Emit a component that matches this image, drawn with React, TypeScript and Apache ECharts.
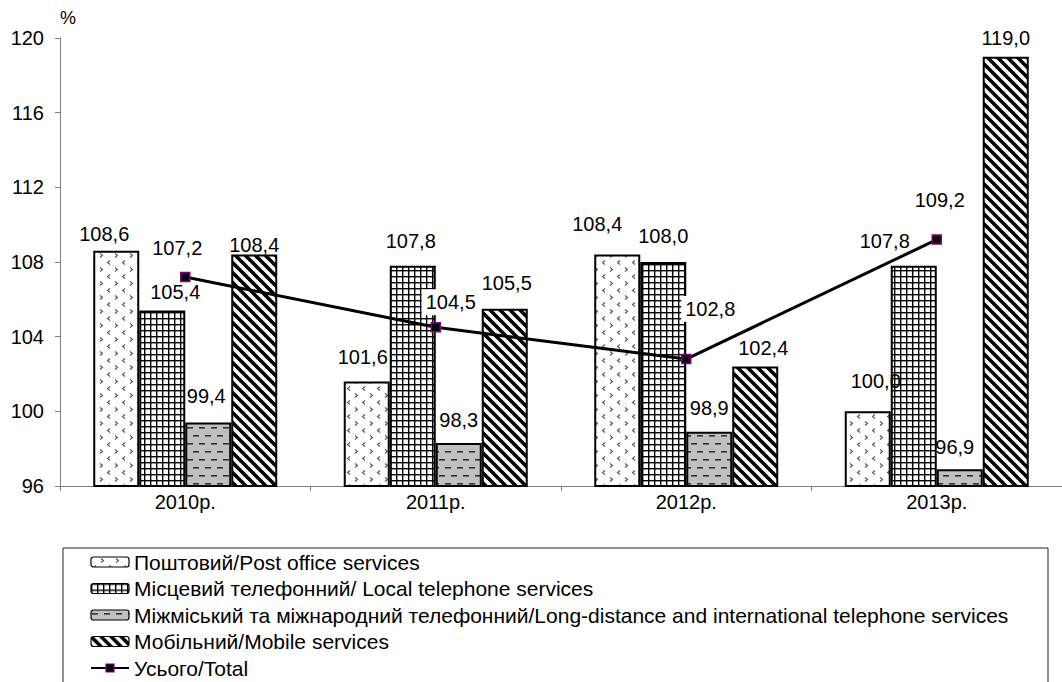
import React, { useEffect, useRef } from 'react';
import * as echarts from 'echarts';

const categories = ['2010р.', '2011р.', '2012р.', '2013р.'];
const seriesNames = [
  'Поштовий/Post office services',
  'Місцевий телефонний/ Local telephone services',
  'Міжміський та міжнародний телефонний/Long-distance and international telephone services',
  'Мобільний/Mobile services',
  'Усього/Total',
];
const postal = [108.6, 101.6, 108.4, 100.0];
const localPhone = [105.4, 107.8, 108.0, 107.8];
const longDistance = [99.4, 98.3, 98.9, 96.9];
const mobile = [108.4, 105.5, 102.4, 119.0];
const total = [107.2, 104.5, 102.8, 109.2];

const yMin = 96;
const yMax = 120;
const yStep = 4;

// label offsets (layout only)
const postalOffsets = [[-12, 2], [-4, -5], [-20, -12], [8, -11]];
const localOffsets = [[13, 0], [-2, -6], [0, -7], [-29, -6]];
const longOffsets = [[-2, -8], [0, -4], [0, -5], [-5, -3]];
const mobileOffsets = [[0, 9], [2, -7], [8, 0], [0, 0]];
const totalOffsets = [[-8, -29], [15, -25], [24, -50], [3, -40]];

const FONT = '"Liberation Sans", Arial, sans-serif';
const FS = 20;

function makeCanvas(w: number, h: number, draw: (c: CanvasRenderingContext2D) => void) {
  const cv = document.createElement('canvas');
  cv.width = w;
  cv.height = h;
  const ctx = cv.getContext('2d')!;
  draw(ctx);
  return cv;
}

const fmt = (v: number) => v.toFixed(1).replace('.', ',');

export default function App() {
  const ref = useRef<HTMLDivElement>(null);
  useEffect(() => {
    document.body.style.margin = '0';
    if (!ref.current) return;
    const chart = echarts.init(ref.current, undefined, { renderer: 'svg' });

    const postPattern = makeCanvas(15, 14, (c) => {
      c.fillStyle = '#fff';
      c.fillRect(0, 0, 15, 14);
      c.strokeStyle = '#555';
      c.lineWidth = 1.1;
      c.beginPath();
      c.moveTo(10, 1.5); c.lineTo(12.5, 3.5); c.lineTo(10, 5.5);
      c.moveTo(5, 8.5); c.lineTo(2.5, 10.5); c.lineTo(5, 12.5);
      c.stroke();
    });
    const gridPattern = makeCanvas(6, 6, (c) => {
      c.fillStyle = '#fff';
      c.fillRect(0, 0, 6, 6);
      c.fillStyle = '#000';
      c.fillRect(0, 0, 6, 1.4);
      c.fillRect(0, 0, 1.4, 6);
    });
    const dashPattern = makeCanvas(12, 16, (c) => {
      c.fillStyle = '#c0c0c0';
      c.fillRect(0, 0, 12, 16);
      c.fillStyle = '#333';
      c.fillRect(1, 3, 6, 1.6);
      c.fillRect(7, 11, 5, 1.6);
      c.fillRect(0, 11, 1, 1.6);
    });
    const stripePattern = makeCanvas(10, 10, (c) => {
      c.fillStyle = '#fff';
      c.fillRect(0, 0, 10, 10);
      c.strokeStyle = '#000';
      c.lineWidth = 3.6;
      c.beginPath();
      for (let k = -1; k <= 1; k++) {
        c.moveTo(k * 10 - 1, -1);
        c.lineTo(k * 10 + 11, 11);
      }
      c.stroke();
    });

    const barSeries = (name: string, data: number[], pattern: HTMLCanvasElement, offsets: number[][]) => ({
      type: 'bar',
      name,
      barWidth: 46,
      barGap: '0%',
      itemStyle: {
        color: { image: pattern, repeat: 'repeat' },
        borderColor: '#000',
        borderWidth: 2,
      },
      label: {
        show: true,
        position: 'top',
        distance: 9,
        color: '#000',
        fontSize: FS,
        fontFamily: FONT,
        formatter: (p: any) => fmt(p.value),
      },
      data: data.map((v, i) => ({ value: v, label: { offset: offsets[i] } })),
    });

    chart.setOption({
      animation: false,
      backgroundColor: '#fff',
      grid: { left: 60, top: 38, bottom: 196, right: -10 },
      xAxis: {
        type: 'category',
        data: categories,
        axisLine: { lineStyle: { color: '#808080', width: 1 } },
        axisTick: { show: true, length: 5, lineStyle: { color: '#808080' } },
        axisLabel: { color: '#000', fontSize: FS, fontFamily: FONT, margin: 6 },
      },
      yAxis: {
        type: 'value',
        min: yMin,
        max: yMax,
        interval: yStep,
        splitLine: { show: false },
        axisLine: { show: true, lineStyle: { color: '#808080', width: 1 } },
        axisTick: { show: true, length: 5, lineStyle: { color: '#808080' } },
        axisLabel: { color: '#000', fontSize: FS, fontFamily: FONT, margin: 16 },
      },
      legend: {
        orient: 'vertical',
        left: 90,
        top: 551,
        padding: 0,
        itemGap: 4.5,
        itemWidth: 38,
        itemHeight: 10,
        itemStyle: { borderWidth: 1.2 },
        textStyle: { color: '#000', fontSize: 21, fontFamily: FONT, lineHeight: 22 },
        data: seriesNames,
      },
      graphic: [
        {
          type: 'text',
          left: 60,
          top: 9,
          style: { text: '%', fontSize: 18, fontFamily: FONT, fill: '#000' },
        },
        {
          type: 'rect',
          shape: { x: 63, y: 548, width: 985, height: 200 },
          style: { fill: 'none', stroke: '#222', lineWidth: 1 },
          silent: true,
        },
      ],
      series: [
        barSeries(seriesNames[0], postal, postPattern, postalOffsets),
        barSeries(seriesNames[1], localPhone, gridPattern, localOffsets),
        barSeries(seriesNames[2], longDistance, dashPattern, longOffsets),
        barSeries(seriesNames[3], mobile, stripePattern, mobileOffsets),
        {
          type: 'line',
          name: seriesNames[4],
          symbol: 'rect',
          symbolSize: 9,
          lineStyle: { color: '#000', width: 3 },
          itemStyle: { color: '#000', borderColor: '#800080', borderWidth: 1.5 },
          z: 5,
          label: {
            show: true,
            position: 'inside',
            color: '#000',
            fontSize: FS,
            fontFamily: FONT,
            backgroundColor: '#fff',
            padding: [3, 4],
            formatter: (p: any) => fmt(p.value),
          },
          data: total.map((v, i) => ({ value: v, label: { offset: totalOffsets[i] } })),
        },
      ],
    });
    return () => chart.dispose();
  }, []);
  return <div ref={ref} style={{ width: 1062, height: 682 }} />;
}
